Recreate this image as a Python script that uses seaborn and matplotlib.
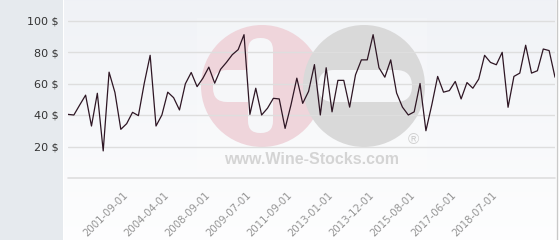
import numpy as np
import pandas as pd
import matplotlib
matplotlib.use("Agg")
import matplotlib.pyplot as plt
import seaborn as sns
from matplotlib.patches import Rectangle, Circle, FancyBboxPatch
from matplotlib.transforms import ScaledTranslation

# ---- data ----
prices = [40.4, 40.0, 46.4, 52.6, 33.0, 53.8, 17.2, 67.2, 54.3, 30.9,
          34.5, 41.7, 39.6, 60.2, 77.9, 33.0, 40.0, 54.5, 51.0, 43.2,
          59.8, 67.0, 58.0, 63.4, 70.4, 60.2, 69.0, 73.4, 78.3, 81.5,
          91.0, 40.4, 57.0, 40.0, 44.3, 50.6, 50.2, 31.5, 46.4, 63.4,
          47.4, 55.0, 72.0, 40.0, 70.0, 42.0, 62.0, 62.0, 45.0, 65.5,
          75.0, 75.0, 91.0, 70.0, 64.0, 75.0, 54.0, 45.0, 40.0, 42.0,
          60.0, 30.0, 46.4, 64.5, 54.5, 55.5, 61.3, 50.2, 60.6, 57.0,
          62.8, 77.9, 73.4, 71.9, 79.8, 44.9, 64.5, 66.6, 84.3, 66.6,
          68.1, 81.9, 80.9, 64.0]
tick_positions = [10, 17, 24, 31, 38, 45, 52, 59, 66, 73]
tick_labels = ["2001-09-01", "2004-04-01", "2008-09-01", "2009-07-01",
               "2011-09-01", "2013-01-01", "2013-12-01", "2015-08-01",
               "2017-06-01", "2018-07-01"]
y_ticks = [20, 40, 60, 80, 100]
y_labels = [f"{v} $" for v in y_ticks]

df = pd.DataFrame({"idx": np.arange(len(prices)), "price": prices})

sns.set_style("white")
plt.rcParams["font.family"] = ["DejaVu Sans"]

W, H = 560, 240
fig = plt.figure(figsize=(W / 100, H / 100), dpi=100)
fig.patch.set_facecolor("white")

# ---- background axes (pixel coordinates) ----
bg = fig.add_axes([0, 0, 1, 1], zorder=0)
bg.set_xlim(0, W)
bg.set_ylim(H, 0)
bg.axis("off")
bg.add_patch(Rectangle((0, 0), 63, H, color="#e6eaee", lw=0))
grad = np.linspace(0, 1, 256).reshape(-1, 1)
top = np.array([0.941, 0.949, 0.965])
bot = np.array([0.995, 0.996, 0.998])
img = top[None, None, :] * (1 - grad[..., None]) + bot[None, None, :] * grad[..., None]
bg.imshow(img, extent=(64, 556, H, 0), aspect="auto", zorder=0)
bg.plot([556.5, 556.5], [0, H], color="#c9c9c9", lw=1, zorder=1)

# watermark
bg.add_patch(Rectangle((197, 18), 230, 154, color="white", alpha=0.18, lw=0, zorder=1))
bg.add_patch(Circle((262, 86), 61, color="#efd5db", lw=0, zorder=2))
bg.add_patch(Circle((364, 86), 61, color="#d9d9d9", lw=0, zorder=3))
wcol = "#f6f7f9"
bg.add_patch(FancyBboxPatch((248, 38), 25, 95, boxstyle="round,pad=0,rounding_size=12",
                            color=wcol, lw=0, zorder=4))
bg.add_patch(FancyBboxPatch((213, 70), 50, 32, boxstyle="round,pad=0,rounding_size=14",
                            color=wcol, lw=0, zorder=4))
bg.add_patch(FancyBboxPatch((318, 70), 94, 32, boxstyle="round,pad=0,rounding_size=16",
                            color=wcol, lw=0, zorder=4))
bg.text(312, 160, "www.Wine-Stocks.com", ha="center", va="center", fontsize=11.5,
        fontweight="bold", color="#d4d4d4", family="Liberation Sans", zorder=5)
bg.text(413, 140, "®", ha="center", va="center", fontsize=11,
        color="#d0d0d0", family="Liberation Sans", zorder=5)

# ---- main axes ----
x0, x1 = 68, 555
ax = fig.add_axes([x0 / W, (H - 178) / H, (x1 - x0) / W, 178 / H], zorder=2)
ax.set_facecolor("none")
for s in ax.spines.values():
    s.set_visible(False)

sns.lineplot(data=df, x="idx", y="price", ax=ax, color="#2e1624", lw=0.9)

ax.set_xlim(0, len(prices) - 1)
ax.set_ylim(0, 178 / 1.575)
ax.set_yticks(y_ticks, labels=y_labels)
ax.set_xticks(tick_positions, labels=tick_labels)
ax.set_xlabel("")
ax.set_ylabel("")
ax.grid(axis="y", color="#dedede", lw=1)
ax.grid(axis="x", visible=False)
ax.axhline(0, color="#dedede", lw=1.2, clip_on=False, zorder=0)
ax.set_axisbelow(True)
ax.tick_params(axis="y", length=0, pad=6.5, labelsize=8, labelcolor="#333333")
ax.tick_params(axis="x", length=0, pad=8.5, labelsize=7.3, labelcolor="#939393")
off = ScaledTranslation(3 / 100, 0, fig.dpi_scale_trans)
for lbl in ax.get_xticklabels():
    lbl.set_rotation(45)
    lbl.set_ha("right")
    lbl.set_va("top")
    lbl.set_transform(lbl.get_transform() + off)

fig.savefig("out.png", dpi=100, facecolor="white")
